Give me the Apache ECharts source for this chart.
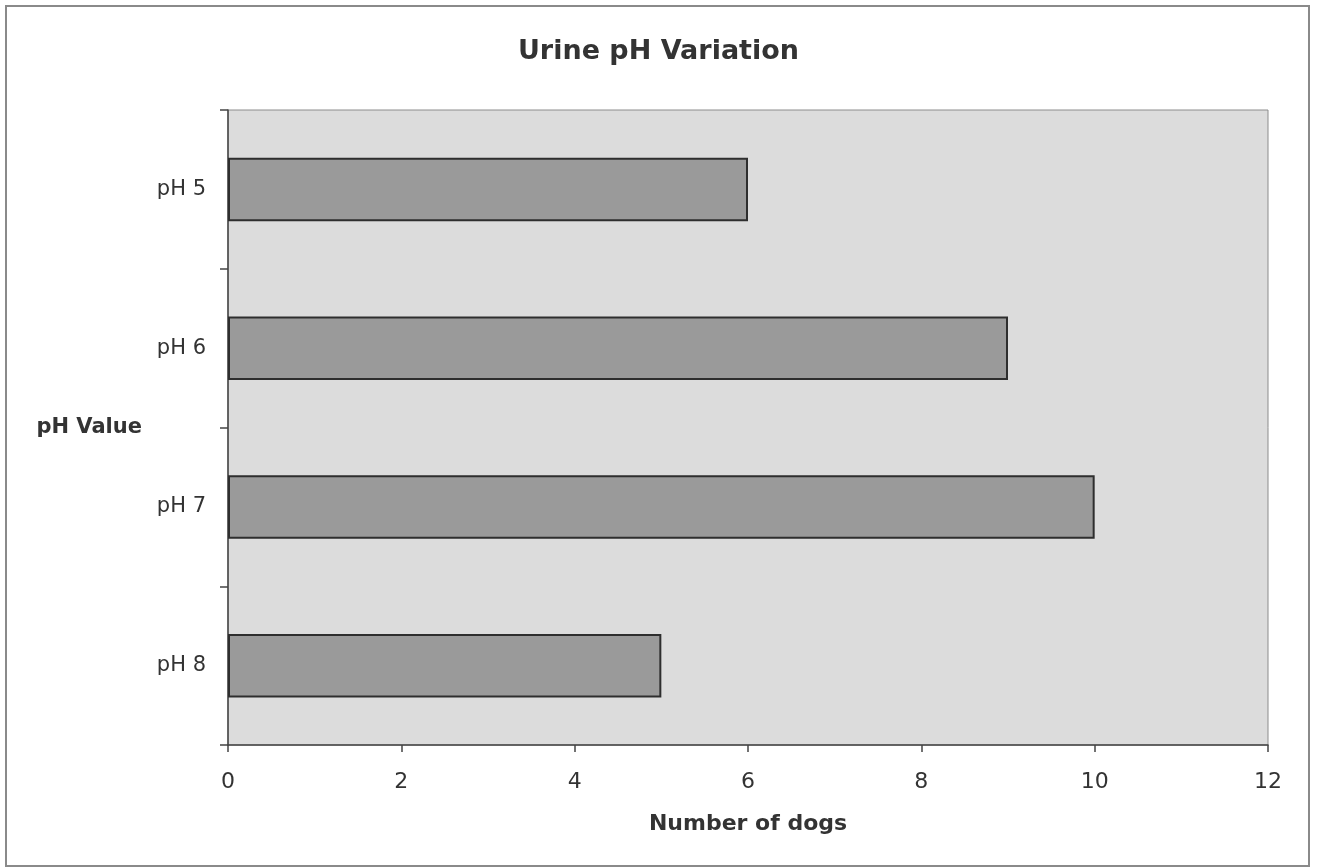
<!DOCTYPE html>
<html>
<head>
<meta charset="utf-8">
<title>Urine pH Variation</title>
<script src="https://cdn.jsdelivr.net/npm/echarts@6/dist/echarts.min.js"></script>
<style>
  html, body { margin: 0; padding: 0; background: #ffffff; }
  #chart { width: 1317px; height: 868px; }
</style>
</head>
<body>
<div id="chart"></div>
<script>
// pH categories (top to bottom) and number of dogs at each value
const phCategories = ['pH 5', 'pH 6', 'pH 7', 'pH 8'];
const dogCounts = [6, 9, 10, 5];
const countTicks = { min: 0, max: 12, interval: 2 };

const textColor = '#333333';
const font = 'DejaVu Sans';

const chart = echarts.init(document.getElementById('chart'), null, { renderer: 'canvas' });

chart.setOption({
  animation: false,
  backgroundColor: '#ffffff',
  title: {
    text: 'Urine pH Variation',
    left: 'center',
    top: 33,
    textStyle: { fontFamily: font, fontSize: 27, fontWeight: 'bold', color: textColor }
  },
  grid: {
    left: 228, right: 49, top: 110, bottom: 123,
    show: true,
    backgroundColor: '#dcdcdc',
    borderColor: '#8c8c8c',
    borderWidth: 1
  },
  xAxis: {
    type: 'value',
    min: countTicks.min,
    max: countTicks.max,
    interval: countTicks.interval,
    name: 'Number of dogs',
    nameLocation: 'middle',
    nameGap: 68,
    nameTextStyle: { fontFamily: font, fontSize: 22, fontWeight: 'bold', color: textColor },
    axisLine: { show: true, lineStyle: { color: '#444444', width: 1.5 } },
    axisTick: { show: true, length: 7, lineStyle: { color: '#444444', width: 1.5 } },
    axisLabel: { margin: 26, fontFamily: font, fontSize: 22, color: textColor },
    splitLine: { show: false }
  },
  yAxis: {
    type: 'category',
    inverse: true,
    data: phCategories,
    name: 'pH Value',
    nameLocation: 'middle',
    nameRotate: 0,
    nameGap: 86,
    nameTextStyle: { fontFamily: font, fontSize: 21, fontWeight: 'bold', color: textColor, padding: [10, 0, 0, 0] },
    axisLine: { show: true, lineStyle: { color: '#444444', width: 1.5 } },
    axisTick: { show: true, length: 8, alignWithLabel: false, lineStyle: { color: '#444444', width: 1.5 } },
    axisLabel: { margin: 22, fontFamily: font, fontSize: 21, color: textColor, padding: [3, 0, 0, 0] },
    splitLine: { show: false }
  },
  series: [{
    type: 'bar',
    data: dogCounts,
    barCategoryGap: '60%',
    itemStyle: { color: '#9a9a9a', borderColor: '#2e2e2e', borderWidth: 2 }
  }],
  graphic: [{
    type: 'rect',
    shape: { x: 6, y: 6, width: 1303, height: 860 },
    style: { fill: 'none', stroke: '#8a8a8a', lineWidth: 2 },
    silent: true
  }]
});
</script>
</body>
</html>
